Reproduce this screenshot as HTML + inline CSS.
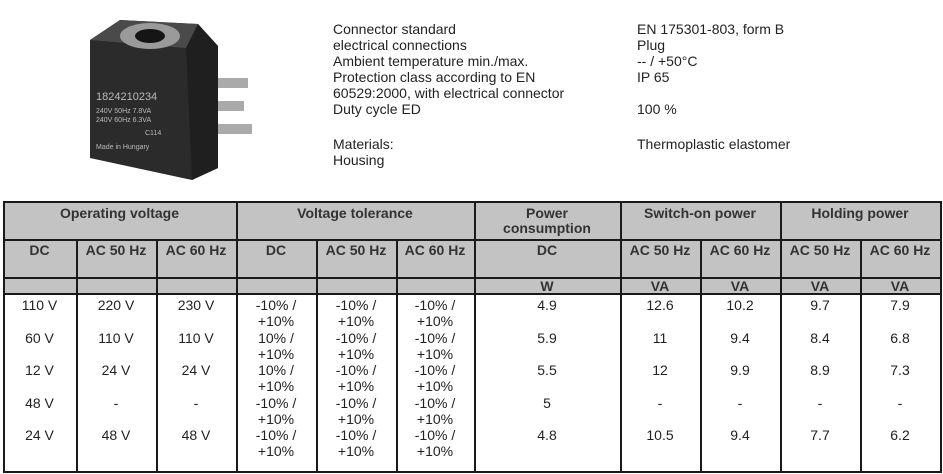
<!DOCTYPE html>
<html><head><meta charset="utf-8"><style>
body{margin:0;width:943px;height:474px;background:#fff;font-family:"Liberation Sans",sans-serif;color:#222;position:relative;overflow:hidden}
.a{position:absolute}
.t{font-size:14px;line-height:16px;color:#222}
.gray{background:#c3c3c3}
.v{position:absolute;width:2px;background:#1a1a1a}
.h{position:absolute;height:2px;background:#1a1a1a;left:3px;width:939px}
.c{position:absolute;text-align:center;font-size:14px;line-height:16.25px;top:297px}
.hd{position:absolute;text-align:center;font-size:14px;line-height:15px;font-weight:bold;color:#333}
</style></head><body>
<svg class="a" style="left:80px;top:8px" width="185" height="180" viewBox="0 0 185 180">
<polygon points="10,32 40,12 118,16 138,38 138,160 112,172 10,150" fill="#2b2b2b"/>
<polygon points="10,32 40,12 118,16 106,40" fill="#4a4a4a"/>
<polygon points="106,40 118,16 138,38 138,160 112,172" fill="#1f1f1f"/>
<ellipse cx="70" cy="28" rx="30" ry="13" fill="#9a9a9a"/>
<ellipse cx="70" cy="28" rx="15" ry="7" fill="#151515"/>
<rect x="138" y="70" width="30" height="10" fill="#aaa"/>
<rect x="138" y="93" width="26" height="10" fill="#aaa"/>
<rect x="138" y="116" width="34" height="10" fill="#aaa"/>
<text x="16" y="92" font-size="11" fill="#bbb" font-family="Liberation Sans">1824210234</text>
<text x="16" y="105" font-size="7" fill="#bbb" font-family="Liberation Sans">240V 50Hz 7.8VA</text>
<text x="16" y="114" font-size="7" fill="#bbb" font-family="Liberation Sans">240V 60Hz 6.3VA</text>
<text x="65" y="127" font-size="7" fill="#bbb" font-family="Liberation Sans">C114</text>
<text x="16" y="141" font-size="7" fill="#bbb" font-family="Liberation Sans">Made in Hungary</text>
</svg>
<div class="a t" style="left:333px;top:21px">Connector standard<br>electrical connections<br>Ambient temperature min./max.<br>Protection class according to EN<br>60529:2000, with electrical connector<br>Duty cycle ED</div>
<div class="a t" style="left:333px;top:136px">Materials:<br>Housing</div>
<div class="a t" style="left:637px;top:21px">EN 175301-803, form B<br>Plug<br>-- / +50°C<br>IP 65<br><br>100 %</div>
<div class="a t" style="left:637px;top:136px">Thermoplastic elastomer</div>

<div class="a gray" style="left:3px;top:202px;width:938px;height:92px"></div>
<div class="h" style="top:201px"></div>
<div class="h" style="top:239px"></div>
<div class="h" style="top:277px"></div>
<div class="h" style="top:293px"></div>
<div class="h" style="top:471px"></div>
<div class="v" style="left:3px;top:201px;height:272px"></div>
<div class="v" style="left:236px;top:201px;height:272px"></div>
<div class="v" style="left:474px;top:201px;height:272px"></div>
<div class="v" style="left:620px;top:201px;height:272px"></div>
<div class="v" style="left:780px;top:201px;height:272px"></div>
<div class="v" style="left:940px;top:201px;height:272px"></div>
<div class="v" style="left:76px;top:239px;height:234px"></div>
<div class="v" style="left:156px;top:239px;height:234px"></div>
<div class="v" style="left:316px;top:239px;height:234px"></div>
<div class="v" style="left:396px;top:239px;height:234px"></div>
<div class="v" style="left:700px;top:239px;height:234px"></div>
<div class="v" style="left:860px;top:239px;height:234px"></div>

<div class="hd" style="left:3px;width:233px;top:206px">Operating voltage</div>
<div class="hd" style="left:236px;width:238px;top:206px">Voltage tolerance</div>
<div class="hd" style="left:474px;width:146px;top:206px">Power<br>consumption</div>
<div class="hd" style="left:620px;width:160px;top:206px">Switch-on power</div>
<div class="hd" style="left:780px;width:160px;top:206px">Holding power</div>
<div class="hd" style="left:3px;width:73px;top:243px">DC</div>
<div class="hd" style="left:76px;width:80px;top:243px">AC 50 Hz</div>
<div class="hd" style="left:156px;width:80px;top:243px">AC 60 Hz</div>
<div class="hd" style="left:236px;width:80px;top:243px">DC</div>
<div class="hd" style="left:316px;width:80px;top:243px">AC 50 Hz</div>
<div class="hd" style="left:396px;width:78px;top:243px">AC 60 Hz</div>
<div class="hd" style="left:474px;width:146px;top:243px">DC</div>
<div class="hd" style="left:620px;width:80px;top:243px">AC 50 Hz</div>
<div class="hd" style="left:700px;width:80px;top:243px">AC 60 Hz</div>
<div class="hd" style="left:780px;width:80px;top:243px">AC 50 Hz</div>
<div class="hd" style="left:860px;width:80px;top:243px">AC 60 Hz</div>
<div class="hd" style="left:474px;width:146px;top:279px">W</div>
<div class="hd" style="left:620px;width:80px;top:279px">VA</div>
<div class="hd" style="left:700px;width:80px;top:279px">VA</div>
<div class="hd" style="left:780px;width:80px;top:279px">VA</div>
<div class="hd" style="left:860px;width:80px;top:279px">VA</div>

<div class="c" style="left:3px;width:73px">110 V<br><br>60 V<br><br>12 V<br><br>48 V<br><br>24 V</div>
<div class="c" style="left:76px;width:80px">220 V<br><br>110 V<br><br>24 V<br><br>-<br><br>48 V</div>
<div class="c" style="left:156px;width:80px">230 V<br><br>110 V<br><br>24 V<br><br>-<br><br>48 V</div>
<div class="c" style="left:236px;width:80px">-10% /<br>+10%<br>10% /<br>+10%<br>10% /<br>+10%<br>-10% /<br>+10%<br>-10% /<br>+10%</div>
<div class="c" style="left:316px;width:80px">-10% /<br>+10%<br>-10% /<br>+10%<br>-10% /<br>+10%<br>-10% /<br>+10%<br>-10% /<br>+10%</div>
<div class="c" style="left:396px;width:78px">-10% /<br>+10%<br>-10% /<br>+10%<br>-10% /<br>+10%<br>-10% /<br>+10%<br>-10% /<br>+10%</div>
<div class="c" style="left:474px;width:146px">4.9<br><br>5.9<br><br>5.5<br><br>5<br><br>4.8</div>
<div class="c" style="left:620px;width:80px">12.6<br><br>11<br><br>12<br><br>-<br><br>10.5</div>
<div class="c" style="left:700px;width:80px">10.2<br><br>9.4<br><br>9.9<br><br>-<br><br>9.4</div>
<div class="c" style="left:780px;width:80px">9.7<br><br>8.4<br><br>8.9<br><br>-<br><br>7.7</div>
<div class="c" style="left:860px;width:80px">7.9<br><br>6.8<br><br>7.3<br><br>-<br><br>6.2</div>
</body></html>
